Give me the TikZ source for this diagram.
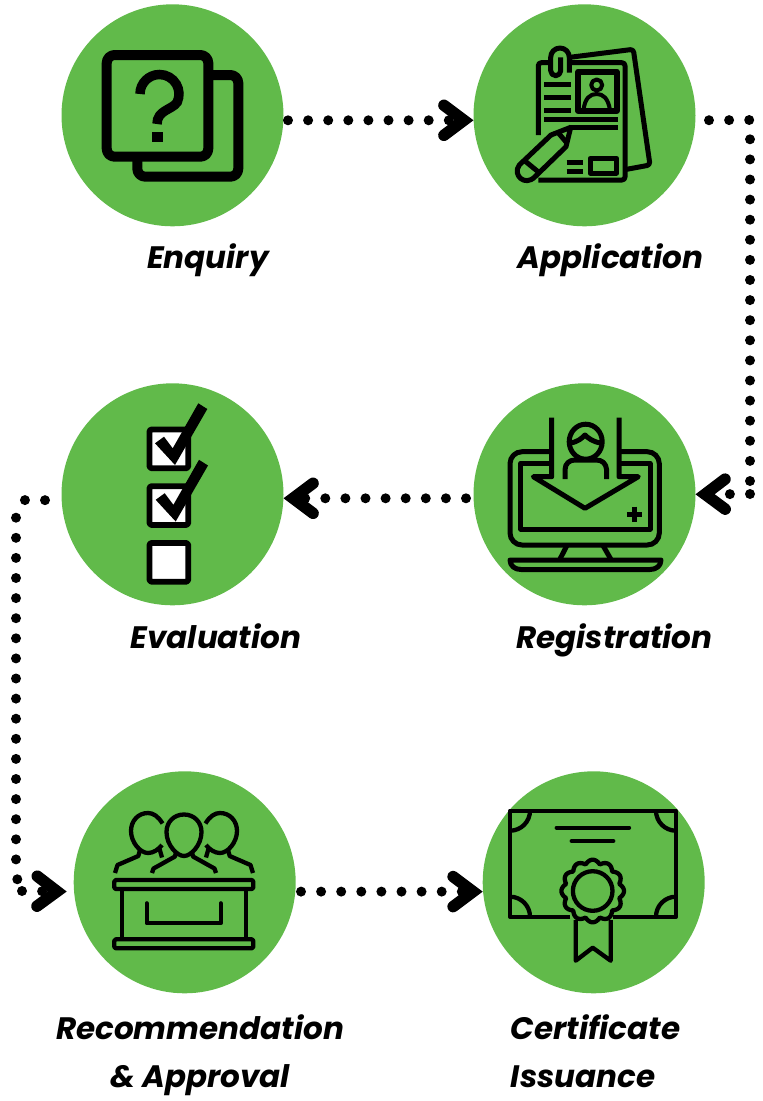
\documentclass[tikz,border=0pt]{standalone}
\usepackage{fontspec}
\setmainfont{Poppins}
\usetikzlibrary{positioning,arrows.meta}
\definecolor{stagegreen}{RGB}{97,186,74}
\tikzset{
    stage/.style={circle, fill=stagegreen, minimum size=222pt, inner sep=0pt, outer sep=0pt},
    stagelabel/.style={font=\fontsize{31}{48}\selectfont\bfseries\itshape, inner sep=0pt, text height=24pt, text depth=8pt},
    dotline/.style={line width=10pt, line cap=round, dash pattern=on 0pt off 20.1pt},
    chevron/.tip={Straight Barb[length=20pt, width=30pt, line width=11.5pt, line cap=round, line join=miter]},
    icon/.style={yscale=-1, line width=#1, line join=round},
    icon/.default=5pt
}
\begin{document}
\begin{tikzpicture}[x=1pt, y=1pt, node distance=190pt]
    \useasboundingbox (0,0) rectangle (763,-1101);

    \node[stage] (enquiry) at (172.5,-115.3) {};
    \node[stage, right=of enquiry] (application) {};
    \node[stage, below=157pt of application] (registration) {};
    \node[stage, left=of registration] (evaluation) {};
    \node[stage, below=166pt of evaluation, xshift=12.2pt] (recommendation) {};
    \node[stage, right=187pt of recommendation] (certificate) {};

    \node[stagelabel, below=17.5pt of enquiry, xshift=35.5pt] (enquirylabel) {Enquiry};
    \node[stagelabel, below=17.5pt of application, xshift=26pt] (applicationlabel) {Application};
    \node[stagelabel, below=19pt of registration, xshift=30pt] (registrationlabel) {Registration};
    \node[stagelabel, below=19pt of evaluation, xshift=43.5pt] (evaluationlabel) {Evaluation};
    \node[stagelabel, align=center, below=69.5pt of recommendation, xshift=15.3pt] (recommendationlabel) {Recommendation\\\& Approval};
    \node[stagelabel, align=left, below=69.5pt of certificate, xshift=2pt] (certificatelabel) {Certificate\\Issuance};

    % dotted connectors
    \coordinate (rightbendtop) at (750,-120);
    \coordinate (rightbendlow) at (750,-494);
    \coordinate (leftbendtop) at (25,-500);
    \coordinate (leftbendmid) at (16,-515);
    \coordinate (leftbendlow) at (16,-876);
    \coordinate (leftbendend) at (22,-891);

    \draw[dotline, dash phase=15.6pt, -chevron] ([yshift=-5pt]enquiry.east) -- ([yshift=-5pt]application.west);
    \draw[dotline, dash phase=6.6pt] ([yshift=-5pt]application.east) -- (rightbendtop) -- (rightbendlow);
    \draw[dotline, -chevron] (rightbendlow) -- (registration.east);
    \draw[dotline, dash phase=12.6pt, -chevron] ([yshift=-4pt]registration.west) -- ([yshift=-4pt]evaluation.east);
    \draw[dotline, dash phase=3.6pt] ([yshift=-6pt]evaluation.west) -- (leftbendtop) -- (leftbendmid) -- (leftbendlow) -- (leftbendend);
    \draw[dotline, shorten >=7pt, -chevron] (leftbendend) -- ([yshift=-9.3pt]recommendation.west);
    \draw[dotline, dash phase=14.8pt, -chevron] ([yshift=-9.3pt]recommendation.east) -- ([yshift=-9.3pt]certificate.west);

    % enquiry icon
    \begin{scope}[icon=10pt]
        \draw[rounded corners=8pt] (106.7,55) rectangle (208.3,156.7);
        \draw[rounded corners=8pt] (208.3,75) -- (238.3,75) -- (238.3,176.7) -- (137.3,176.7) -- (137.3,156.7);
        \draw[line width=9.5pt, line join=miter] (140,94) arc[start angle=180, end angle=385, radius=19.5pt] .. controls (172,110) and (157,110) .. (157,124);
        \fill (152.3,131.7) rectangle (162.7,141.7);
    \end{scope}

    % application icon
    \begin{scope}[icon]
        \draw[rounded corners=3pt] (570,57.3) -- (633.3,49.3) -- (650,165) -- (626.7,169.3);
        \draw[rounded corners=3pt] (538.3,135) -- (538.3,62.7) -- (550.7,62.7);
        \draw[rounded corners=3pt] (569.3,62.7) -- (625,62.7) -- (625,180) -- (538.3,180);
        \draw (569.3,72.7) -- (569.3,57.3) arc[start angle=0, end angle=-180, radius=9.3pt] -- (550.7,70.7) arc[start angle=180, end angle=0, radius=5pt] -- (560.7,57.3);
        \draw[line width=6pt] (578.3,71.7) rectangle (616.7,110.7);
        \draw[line width=4pt] (596.7,85) circle[radius=5.5pt];
        \draw[line width=4pt] (583.5,110) .. controls (585,98) and (590,94) .. (596.7,94) .. controls (603,94) and (608,98) .. (610,110);
        \foreach \lineY in {84.3,97.7,110.7}
            \draw (544.3,\lineY) -- (570.7,\lineY);
        \draw (544.3,119.3) -- (618.3,119.3);
        \draw (570,127.7) -- (618.3,127.7);
        \draw[fill=stagegreen] (570.7,127.3) -- (551,135) -- (519.3,165) .. controls (512,175) and (525,187) .. (535,176.7) -- (566,146.7) -- cycle;
        \draw (525,161) -- (540,173.3);
        \draw (557.3,131.7) -- (566.7,142.7);
        \draw (590,158.3) rectangle (616.7,173);
        \draw (566.7,162.3) -- (583.3,162.3);
        \draw (566.7,171.7) -- (583.3,171.7);
    \end{scope}

    % registration icon
    \begin{scope}[icon]
        \draw[rounded corners=12pt] (551.7,451.7) -- (510,451.7) -- (510,545) -- (659.3,545) -- (659.3,451.7) -- (618,451.7);
        \draw (551.7,463.3) -- (520.7,463.3) -- (520.7,529) -- (650,529) -- (650,463.3) -- (618,463.3);
        \draw (551.7,417.7) -- (551.7,476.7) -- (533.3,476.7) -- (585,508.3) -- (638.3,476.7) -- (619,476.7) -- (619,417.7);
        \draw (585.7,441.7) ellipse[x radius=16.5pt, y radius=17.5pt];
        \draw (570,443) .. controls (578,442) and (582,438) .. (585,435) .. controls (588,438) and (593,442) .. (601,443);
        \draw (565,479) -- (565,470) .. controls (565,463) and (570,460) .. (575,460) -- (596,460) .. controls (602,460) and (606,463) .. (606.7,470) -- (606.7,479);
        \draw (634.3,506.5) -- (634.3,521.5);
        \draw (626.8,514) -- (641.8,514);
        \draw (566.7,546) -- (560,559);
        \draw (603.3,546) -- (610.7,559);
        \draw (510,560) -- (661,560) .. controls (661,566) and (656,569.5) .. (650,569.5) -- (521,569.5) .. controls (515,569.5) and (510,566) .. (510,560) -- cycle;
    \end{scope}

    % evaluation icon
    \begin{scope}[icon=5.7pt]
        \foreach \boxY in {429.5,486.2,543}
            \draw[fill=white, rounded corners=1.5pt] (149.5,\boxY) rectangle (188.2,\boxY+38.7);
        \foreach \tickX/\tickY in {0/0,0.7/56.5}
            \fill[shift={(\tickX,\tickY)}] (155,443.3) -- (164,436.7) -- (172.7,448.3) -- (198.3,403.3) -- (207.3,409) -- (175,465) -- cycle;
    \end{scope}

    % recommendation icon
    \begin{scope}[icon=4.3pt]
        \draw[rounded corners=1.5pt] (114.3,880) rectangle (253.3,889);
        \draw[rounded corners=1.5pt] (114.3,939.3) rectangle (253.3,948.3);
        \draw (122.3,889) -- (122.3,939.3);
        \draw (245.7,889) -- (245.7,939.3);
        \draw[line cap=round] (146.7,903.3) -- (146.7,923.3) -- (220.7,923.3) -- (220.7,903.3);
        % three people
        \draw (184,814.5) .. controls (174,814.5) and (166.5,822) .. (166.5,832) .. controls (166.5,845) and (177,856) .. (184,856) .. controls (191,856) and (201.5,845) .. (201.5,832) .. controls (201.5,822) and (194,814.5) .. (184,814.5) -- cycle;
        \draw (152,873) -- (153.5,868.5) -- (175,856.5) -- (176,852);
        \draw (192,852) -- (193,856.5) -- (214.5,868.5) -- (216,873);
        \draw (162.5,823.5) .. controls (158,816) and (153,813) .. (148,813) .. controls (138,813) and (131,821) .. (131,831) .. controls (131,842) and (140,853) .. (148,853) .. controls (153,853) and (158,850) .. (162,845);
        \draw (159,847) -- (162,857.5);
        \draw (140,850) -- (138.3,856) -- (117.5,865) -- (115,873);
        \draw (205.5,823.5) .. controls (210,816) and (215,813) .. (220,813) .. controls (230,813) and (237,821) .. (237,831) .. controls (237,842) and (228,853) .. (220,853) .. controls (215,853) and (210,850) .. (206,845);
        \draw (209,847) -- (206,857.5);
        \draw (228,850) -- (229.7,856) -- (250.5,865) -- (253,873);
    \end{scope}

    % certificate icon
    \begin{scope}[icon=4.3pt]
        \draw (570,916.7) -- (510,916.7) -- (510,810.7) -- (676,810.7) -- (676,916.7) -- (613,916.7);
        \draw (530,810.7) arc[start angle=0, end angle=90, radius=20pt];
        \draw (656,810.7) arc[start angle=180, end angle=90, radius=20pt];
        \draw (530,916.7) arc[start angle=0, end angle=-90, radius=20pt];
        \draw (656,916.7) arc[start angle=180, end angle=270, radius=20pt];
        \draw[line cap=round] (556.7,827.7) -- (629,827.7);
        \draw[line cap=round] (571.7,841) -- (613.3,841);
        \draw plot[domain=0:360, samples=145] ({592.7+(27.5+3.8*abs(cos(6*\x)))*cos(\x)}, {891+(27.5+3.8*abs(cos(6*\x)))*sin(\x)}) -- cycle;
        \draw (592.7,891) circle[radius=19.8pt];
        \draw (575.7,920) -- (575.7,960.7) -- (592.7,947.7) -- (610.7,960.7) -- (610.7,920);
    \end{scope}
\end{tikzpicture}
\end{document}
